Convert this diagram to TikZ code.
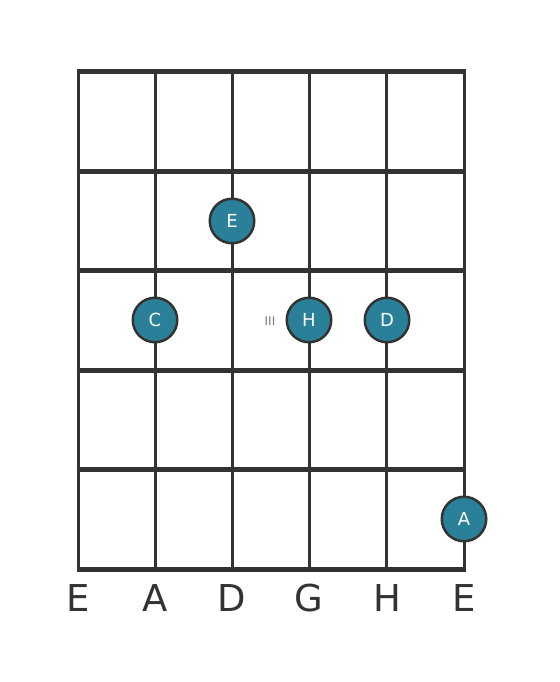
\documentclass[tikz,border=0pt]{standalone}
\usepackage{fontspec}
\setmainfont{DejaVu Sans}
\definecolor{fretgray}{HTML}{333333}
\definecolor{dotteal}{HTML}{2A8099}
\definecolor{markgray}{HTML}{7A7A7A}

\tikzset{
  note/.style={circle, draw=fretgray, line width=2.5pt, fill=dotteal, text=white,
    minimum size=44.5pt, inner sep=0pt, font=\fontsize{18}{18}\selectfont},
  stringname/.style={anchor=base, text=fretgray, font=\fontsize{37}{37}\selectfont}
}

\begin{document}
\begin{tikzpicture}[x=1pt, y=-1pt]
	\useasboundingbox (0,0) rectangle (559,682);

    % strings
    \foreach \s in {0,...,5}
      \draw[fretgray, line width=3pt] (78+77.2*\s,72) -- (78+77.2*\s,569);
    % frets
    \foreach \f in {0,...,5}
      \draw[fretgray, line width=5pt] (76.5,72+99.4*\f) -- (465.5,72+99.4*\f);

    \node[font=\fontsize{12}{12}\selectfont, text=markgray] (pos) at (270,321) {III};

    \node[note] (e) at (232,221) {E};
    \node[note] (c) at (155,320) {C};
    \node[note] (h) at (309,320) {H};
    \node[note] (d) at (387,320) {D};
    \node[note] (a) at (464,519) {A};

    \node[stringname] (s1) at (78,611) {E};
    \node[stringname] (s2) at (155,611) {A};
    \node[stringname] (s3) at (232,611) {D};
    \node[stringname] (s4) at (309,611) {G};
    \node[stringname] (s5) at (387,611) {H};
    \node[stringname] (s6) at (464,611) {E};

\end{tikzpicture}
\end{document}
